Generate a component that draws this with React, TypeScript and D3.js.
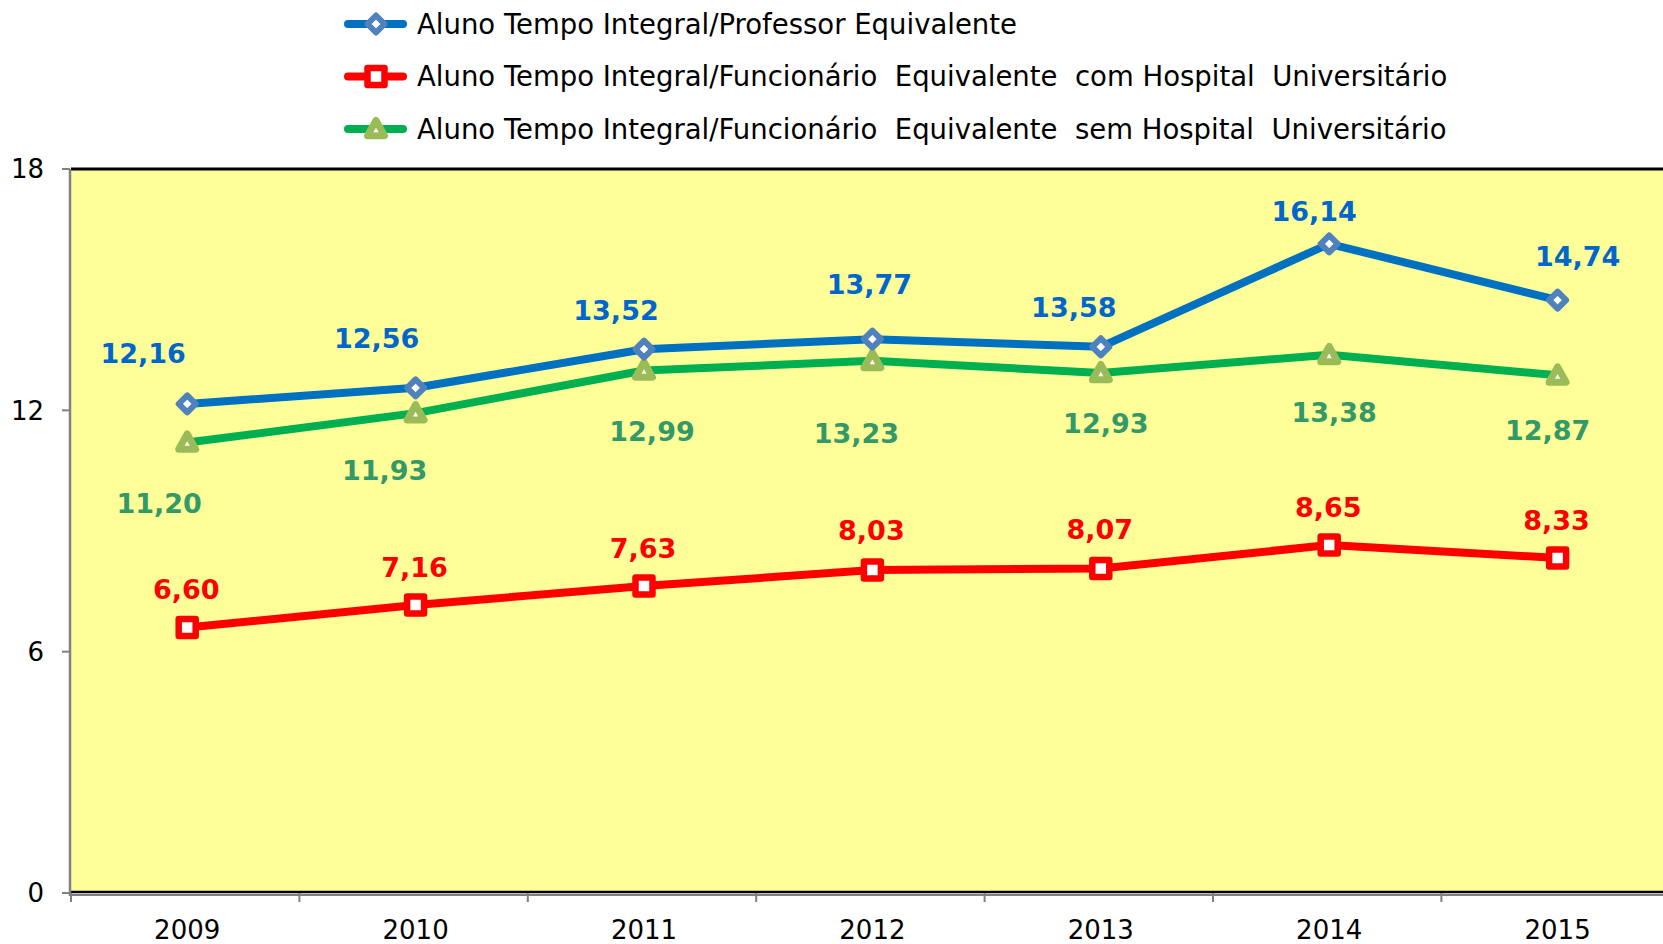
import React from "react";
import * as d3 from "d3";

// values
const years = ["2009", "2010", "2011", "2012", "2013", "2014", "2015"];
const professorRatio = [12.16, 12.56, 13.52, 13.77, 13.58, 16.14, 14.74];
const staffWithHospital = [6.6, 7.16, 7.63, 8.03, 8.07, 8.65, 8.33];
const staffWithoutHospital = [11.2, 11.93, 12.99, 13.23, 12.93, 13.38, 12.87];
const yTicks = [0, 6, 12, 18];

const legendNames = [
  "Aluno Tempo Integral/Professor Equivalente",
  "Aluno Tempo Integral/Funcionário  Equivalente  com Hospital  Universitário",
  "Aluno Tempo Integral/Funcionário  Equivalente  sem Hospital  Universitário",
];

// manual label nudges (dx, dy) as in the original sheet
const blueLabelShift = [[-44, -51], [-39, -50], [-28, -39], [-3, -55], [-27, -40], [-15, -33], [20, -44]];
const greenLabelShift = [[-28, 61], [-31, 57], [8, 61], [-16, 72], [5, 50], [5, 57], [-10, 55]];
const redLabelShift = [[-1, -38], [-1, -38], [-1, -38], [-1, -40], [-1, -39], [-1, -38], [-1, -38]];

const W = 1663;
const H = 944;
const margin = { left: 71, top: 169, bottom: 893 };
const band = 228.4;

const font = "'DejaVu Sans', Verdana, sans-serif";

const fmt = (v: number) => v.toFixed(2).replace(".", ",");

const Marker = ({ kind, x, y }: { kind: string; x: number; y: number }) => {
  if (kind === "diamond") {
    const r = 8.5;
    return (
      <path
        d={`M${x},${y - r}L${x + r},${y}L${x},${y + r}L${x - r},${y}Z`}
        fill="#fff"
        stroke="#4F81BD"
        strokeWidth={6}
        strokeLinejoin="round"
      />
    );
  }
  if (kind === "square") {
    return (
      <rect x={x - 8.5} y={y - 8.5} width={17} height={17} fill="#fff" stroke="#FF0000" strokeWidth={6.5} strokeLinejoin="round" />
    );
  }
  const s = 8.5;
  return (
    <path
      d={`M${x},${y - s}L${x + s},${y + s * 0.8}L${x - s},${y + s * 0.8}Z`}
      fill="#fff"
      stroke="#9BBB59"
      strokeWidth={7}
      strokeLinejoin="round"
    />
  );
};

export default function App() {
  const x = d3
    .scaleBand<string>()
    .domain(years)
    .range([margin.left, margin.left + band * years.length]);
  const cx = (yr: string) => (x(yr) as number) + x.bandwidth() / 2 + 2;

  const y = d3.scaleLinear().domain([0, 18]).range([margin.bottom, margin.top]);

  const line = d3
    .line<number>()
    .x((_, i) => cx(years[i]))
    .y((d) => y(d));

  const series = [
    { values: professorRatio, line: "#0070C0", text: "#0066CC", marker: "diamond", shift: blueLabelShift },
    { values: staffWithHospital, line: "#FF0000", text: "#FF0000", marker: "square", shift: redLabelShift },
    { values: staffWithoutHospital, line: "#00B050", text: "#339966", marker: "triangle", shift: greenLabelShift },
  ];
  // draw order: green, red, blue on top
  const drawOrder = [series[2], series[1], series[0]];

  const plotRight = margin.left + band * years.length;

  return (
    <svg
      width={W}
      height={H}
      style={{ position: "absolute", left: 0, top: 0, overflow: "hidden", background: "#fff" }}
    >
      {/* legend */}
      {series.map((s, i) => {
        const ly = 24 + i * 52.5;
        return (
          <g key={"lg" + i}>
            <line x1={348} x2={403} y1={ly} y2={ly} stroke={s.line} strokeWidth={8} strokeLinecap="round" />
            <Marker kind={s.marker} x={376} y={ly} />
            <text
              x={417}
              y={ly}
              dy="0.36em"
              fontFamily={font}
              fontSize={27.5}
              fill="#000"
              style={{ whiteSpace: "pre" }}
            >
              {legendNames[i]}
            </text>
          </g>
        );
      })}

      {/* plot area */}
      <rect x={margin.left} y={margin.top} width={plotRight - margin.left} height={margin.bottom - margin.top} fill="#FFFF99" />
      <line x1={margin.left} x2={plotRight} y1={margin.top} y2={margin.top} stroke="#000" strokeWidth={3} />
      <line x1={margin.left} x2={plotRight} y1={margin.bottom - 1} y2={margin.bottom - 1} stroke="#000" strokeWidth={2.5} />

      {/* y axis */}
      <line x1={70} x2={70} y1={margin.top} y2={margin.bottom + 3} stroke="#808080" strokeWidth={2.5} />
      {yTicks.map((t) => (
        <g key={"yt" + t}>
          <line x1={62} x2={70} y1={y(t)} y2={y(t)} stroke="#808080" strokeWidth={2} />
          <text x={44} y={y(t)} dy="0.36em" textAnchor="end" fontFamily={font} fontSize={26} fill="#000">
            {t}
          </text>
        </g>
      ))}

      {/* x axis */}
      <line x1={70} x2={plotRight} y1={margin.bottom + 2} y2={margin.bottom + 2} stroke="#808080" strokeWidth={2} />
      {years.map((yr) => (
        <g key={"xt" + yr}>
          <line x1={x(yr) as number} x2={x(yr) as number} y1={margin.bottom} y2={margin.bottom + 9} stroke="#808080" strokeWidth={2} />
          <text x={cx(yr)} y={939} textAnchor="middle" fontFamily={font} fontSize={26} fill="#000">
            {yr}
          </text>
        </g>
      ))}

      {/* lines */}
      {drawOrder.map((s, k) => (
        <path key={"ln" + k} d={line(s.values) || ""} fill="none" stroke={s.line} strokeWidth={8} strokeLinejoin="round" />
      ))}
      {drawOrder.map((s, k) =>
        s.values.map((v, i) => <Marker key={"mk" + k + i} kind={s.marker} x={cx(years[i])} y={y(v)} />)
      )}

      {/* data labels */}
      {series.map((s, k) =>
        s.values.map((v, i) => (
          <text
            key={"lb" + k + i}
            x={cx(years[i]) + s.shift[i][0]}
            y={y(v) + s.shift[i][1]}
            dy="0.36em"
            textAnchor="middle"
            fontFamily={font}
            fontWeight="bold"
            fontSize={27}
            fill={s.text}
          >
            {fmt(v)}
          </text>
        ))
      )}
    </svg>
  );
}
